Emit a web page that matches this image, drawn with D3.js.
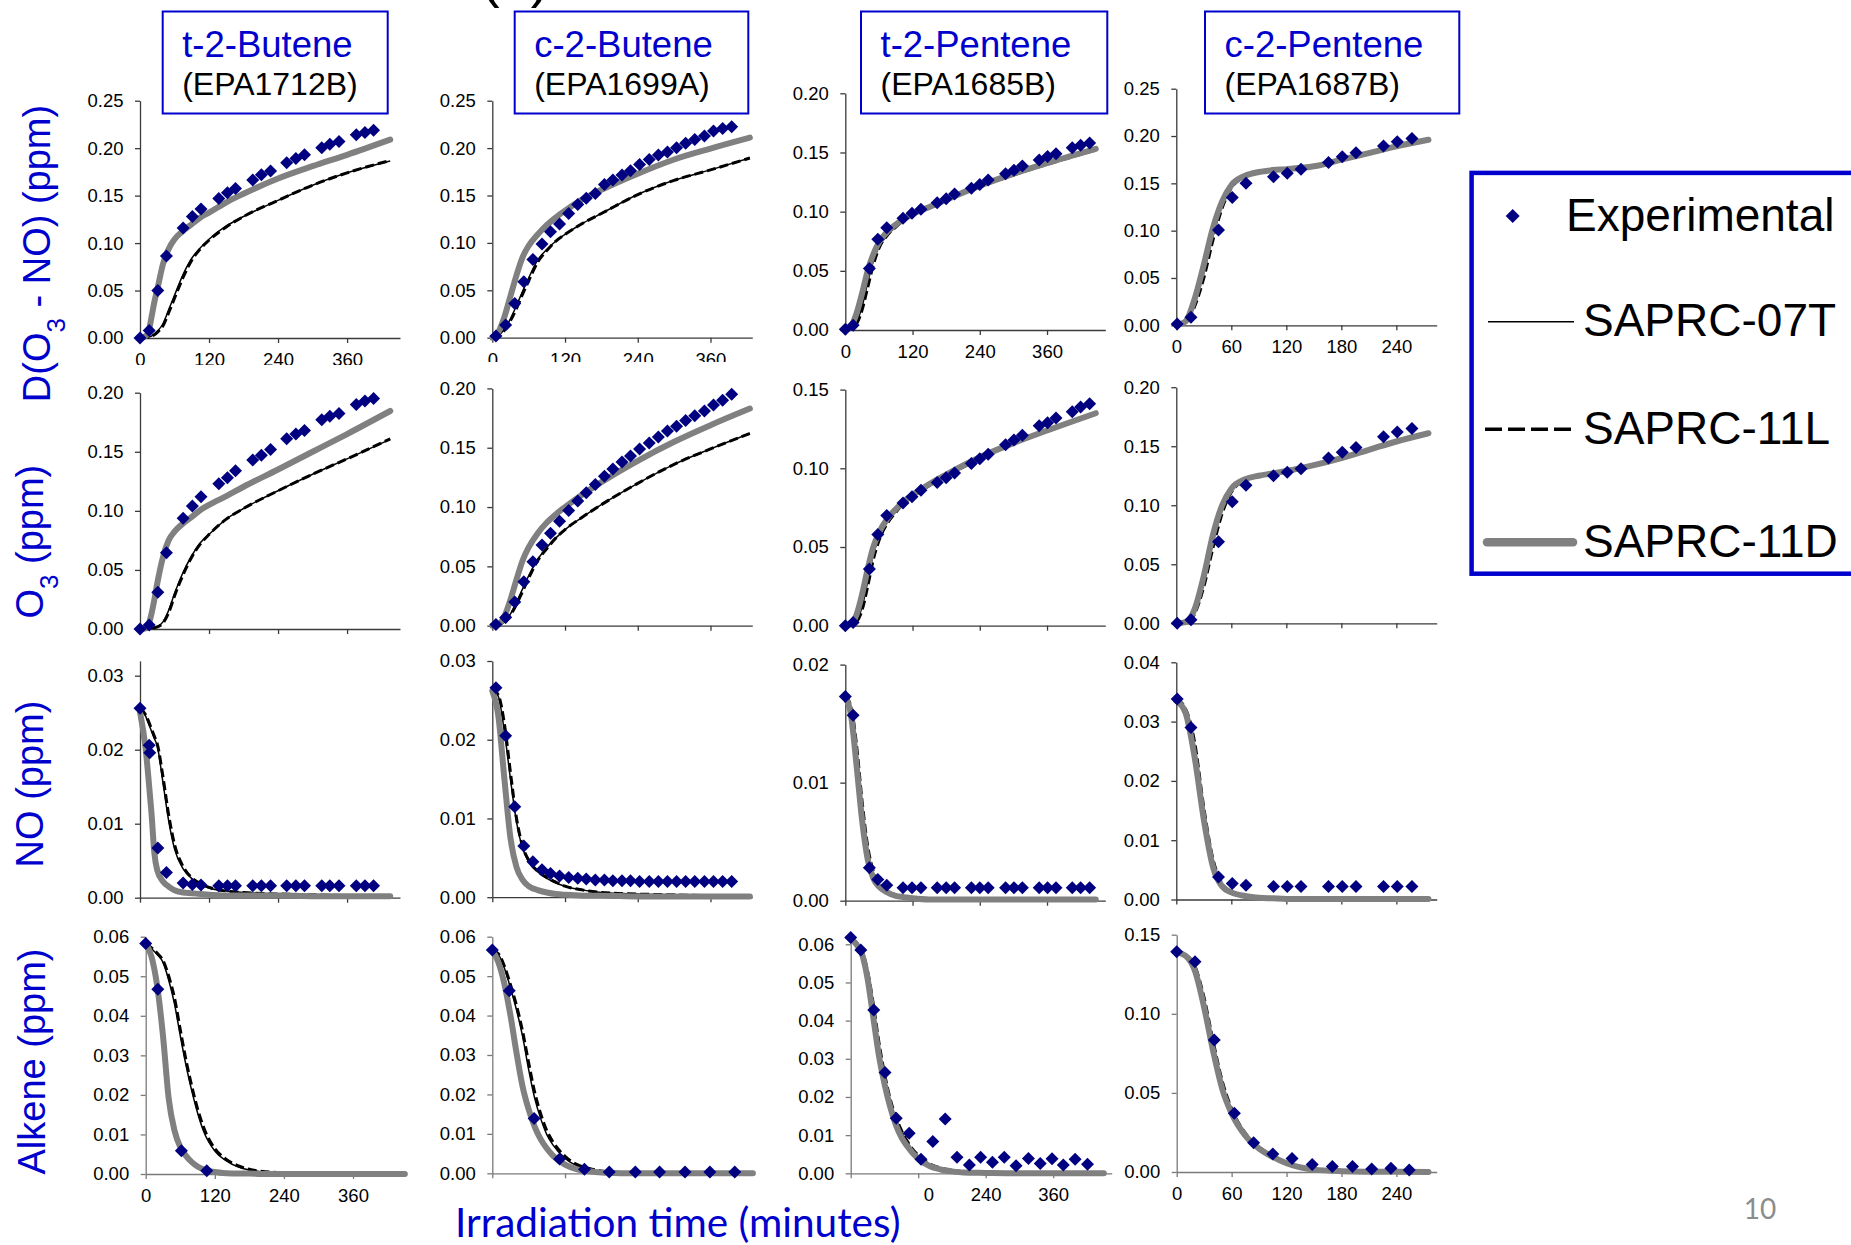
<!DOCTYPE html>
<html>
<head>
<meta charset="utf-8">
<script src="https://cdnjs.cloudflare.com/ajax/libs/d3/7.8.5/d3.min.js"></script>
<style>
  body { margin: 0; background: #fff; }
  svg { display: block; }
  text { font-family: "Liberation Sans", Arial, sans-serif; }
</style>
</head>
<body>
<svg id="chart" width="1851" height="1245"></svg>
<script>
/******************************************************************************
 * DATA                                                                       *
 * ***************************************************************************/
var compounds = ['t-2-Butene', 'c-2-Butene', 't-2-Pentene', 'c-2-Pentene'];
var runIds = ['(EPA1712B)', '(EPA1699A)', '(EPA1685B)', '(EPA1687B)'];
var seriesNames = ['Experimental', 'SAPRC-07T', 'SAPRC-11L', 'SAPRC-11D'];
var xAxisTitle = 'Irradiation time (minutes)';
var pageNumber = '10';

// tick labels
var ticksTo25 = [0, 0.05, 0.10, 0.15, 0.20, 0.25];
var ticksTo20 = [0, 0.05, 0.10, 0.15, 0.20];
var ticksTo15 = [0, 0.05, 0.10, 0.15];
var ticksTo02 = [0, 0.01, 0.02];
var ticksTo03 = [0, 0.01, 0.02, 0.03];
var ticksTo04 = [0, 0.01, 0.02, 0.03, 0.04];
var ticksTo06 = [0, 0.01, 0.02, 0.03, 0.04, 0.05, 0.06];
var xTicksLong = [0, 120, 240, 360];
var xTicksShort = [0, 60, 120, 180, 240];
var xTicksCut = [0, 120];   // c-2-Butene alkene panel: the rest sit under the axis title box

// --- t-2-Butene (EPA1712B) ---
var tbExpT = [0, 16, 31, 46, 75, 91, 106, 137, 152, 166, 196, 211, 227, 255, 271, 286, 316, 330, 346, 376, 391, 406];
var tbExpDO3NO = [0, 0.008, 0.050, 0.0865, 0.116, 0.128, 0.136, 0.147, 0.153, 0.1575, 0.1665, 0.172, 0.176, 0.1845, 0.189, 0.193, 0.2005, 0.204, 0.207, 0.214, 0.2165, 0.219];
var tbExpO3 = [0, 0.0034, 0.031, 0.0646, 0.0937, 0.104, 0.112, 0.123, 0.128, 0.134, 0.143, 0.147, 0.152, 0.161, 0.165, 0.168, 0.177, 0.180, 0.1825, 0.190, 0.193, 0.195];
var tbExpTNO = [0, 16, 17, 31, 46, 75, 91, 106, 137, 152, 166, 196, 211, 227, 255, 271, 286, 316, 330, 346, 376, 391, 406];
var tbExpNO = [0.0256, 0.0206, 0.0196, 0.0067, 0.0034, 0.0020, 0.0018, 0.0017, 0.0016, 0.0016, 0.0016, 0.0016, 0.0016, 0.0016, 0.0016, 0.0016, 0.0016, 0.0016, 0.0016, 0.0016, 0.0016, 0.0016, 0.0016];
var tbExpTAlk = [0, 21, 62, 106];
var tbExpAlk = [0.0583, 0.0467, 0.0059, 0.0008];

var tbModT = [0, 10, 15, 20, 25, 30, 40, 50, 60, 75, 90, 105, 120, 150, 180, 240, 300, 360, 435];
var tb07T_DO3NO = [0, 0.0005, 0.001, 0.002, 0.004, 0.007, 0.015, 0.030, 0.045, 0.067, 0.084, 0.095, 0.104, 0.118, 0.128, 0.145, 0.161, 0.174, 0.1865];
var tb11L_DO3NO = [0, 0.0005, 0.001, 0.002, 0.0035, 0.006, 0.013, 0.027, 0.042, 0.064, 0.082, 0.094, 0.103, 0.117, 0.128, 0.145, 0.161, 0.174, 0.187];
var tb11D_DO3NO = [0, 0.002, 0.007, 0.022, 0.038, 0.051, 0.078, 0.094, 0.104, 0.113, 0.120, 0.127, 0.132, 0.143, 0.152, 0.168, 0.181, 0.193, 0.209];
var tb07T_O3 = [0, 0, 0.0002, 0.0006, 0.001, 0.002, 0.006, 0.016, 0.030, 0.048, 0.062, 0.073, 0.080, 0.093, 0.102, 0.117, 0.131, 0.144, 0.1605];
var tb11L_O3 = [0, 0, 0.0002, 0.0006, 0.001, 0.0018, 0.005, 0.014, 0.028, 0.046, 0.061, 0.072, 0.080, 0.093, 0.102, 0.117, 0.131, 0.144, 0.161];
var tb11D_O3 = [0, 0.0005, 0.004, 0.013, 0.025, 0.0386, 0.061, 0.0753, 0.0824, 0.0894, 0.095, 0.1007, 0.105, 0.1125, 0.1204, 0.135, 0.150, 0.165, 0.1845];
var tb07T_NO = [0.0256, 0.0245, 0.0235, 0.0225, 0.0215, 0.0205, 0.0155, 0.0103, 0.0066, 0.0039, 0.0026, 0.0019, 0.0013, 0.0009, 0.0007, 0.0005, 0.0004, 0.0003, 0.0003];
var tb11L_NO = [0.0256, 0.0247, 0.0238, 0.0228, 0.0218, 0.0208, 0.0163, 0.0111, 0.0072, 0.0042, 0.0027, 0.0019, 0.0014, 0.0009, 0.0007, 0.0005, 0.0004, 0.0003, 0.0003];
var tb11D_NO = [0.0251, 0.020, 0.0159, 0.0114, 0.006, 0.0037, 0.0022, 0.0015, 0.001, 0.0007, 0.0006, 0.0005, 0.0004, 0.0003, 0.0003, 0.0003, 0.0002, 0.0002, 0.0002];
var tbModTAlk = [0, 10, 20, 30, 40, 50, 60, 70, 80, 90, 100, 120, 140, 160, 180, 200, 240, 300, 450];
var tb07T_Alk = [0.0583, 0.057, 0.0555, 0.0535, 0.049, 0.043, 0.035, 0.0275, 0.021, 0.0155, 0.011, 0.0058, 0.0033, 0.0018, 0.001, 0.0006, 0.0002, 0.0001, 0];
var tb11L_Alk = [0.0583, 0.0572, 0.0558, 0.054, 0.050, 0.0445, 0.0365, 0.0288, 0.0222, 0.0165, 0.012, 0.0064, 0.0037, 0.0021, 0.0012, 0.0007, 0.0003, 0.0001, 0];
var tb11D_Alk = [0.0583, 0.055, 0.0475, 0.035, 0.019, 0.011, 0.0068, 0.0046, 0.0030, 0.0019, 0.0012, 0.0005, 0.0002, 0.0001, 0.0001, 0, 0, 0, 0];

// --- c-2-Butene (EPA1699A) ---
var cbExpT = [6, 22, 37, 52, 67, 82, 96, 111, 126, 141, 155, 170, 185, 199, 214, 228, 243, 259, 274, 289, 304, 319, 334, 350, 365, 380, 395];
var cbExpDO3NO = [0.0018, 0.0134, 0.036, 0.059, 0.0826, 0.0988, 0.1118, 0.120, 0.131, 0.1406, 0.147, 0.152, 0.1617, 0.1663, 0.1716, 0.176, 0.1828, 0.188, 0.1927, 0.196, 0.2004, 0.205, 0.209, 0.2127, 0.218, 0.2208, 0.2226];
var cbExpO3 = [0.001, 0.007, 0.020, 0.037, 0.054, 0.068, 0.078, 0.088, 0.097, 0.105, 0.112, 0.119, 0.126, 0.132, 0.138, 0.143, 0.149, 0.154, 0.159, 0.164, 0.168, 0.173, 0.177, 0.181, 0.186, 0.190, 0.195];
var cbExpNO = [0.0266, 0.0205, 0.0115, 0.0065, 0.0045, 0.0035, 0.003, 0.0027, 0.0025, 0.0024, 0.0023, 0.0022, 0.0022, 0.0021, 0.0021, 0.0021, 0.0020, 0.0020, 0.0020, 0.0020, 0.0020, 0.0020, 0.0020, 0.0020, 0.0020, 0.0020, 0.0020];
var cbExpTAlk = [0, 28, 69, 111, 152, 193, 236, 276, 318, 359, 400];
var cbExpAlk = [0.0566, 0.0463, 0.0139, 0.0036, 0.001, 0.0003, 0.0003, 0.0003, 0.0003, 0.0003, 0.0003];

var cbModT = [0, 10, 20, 30, 40, 50, 60, 75, 90, 105, 120, 150, 180, 240, 300, 360, 425];
var cb07T_DO3NO = [0, 0.002, 0.009, 0.020, 0.034, 0.049, 0.063, 0.082, 0.093, 0.102, 0.109, 0.121, 0.131, 0.151, 0.166, 0.177, 0.1895];
var cb11L_DO3NO = [0, 0.002, 0.008, 0.018, 0.031, 0.046, 0.060, 0.080, 0.092, 0.102, 0.109, 0.121, 0.131, 0.151, 0.166, 0.177, 0.1895];
var cb11D_DO3NO = [0, 0.006, 0.022, 0.044, 0.066, 0.085, 0.097, 0.109, 0.119, 0.127, 0.134, 0.1465, 0.156, 0.173, 0.188, 0.1995, 0.211];
var cb07T_O3 = [0, 0.0005, 0.003, 0.010, 0.020, 0.031, 0.042, 0.056, 0.066, 0.074, 0.081, 0.092, 0.102, 0.120, 0.136, 0.149, 0.162];
var cb11L_O3 = [0, 0.0005, 0.0025, 0.009, 0.018, 0.029, 0.040, 0.055, 0.065, 0.074, 0.081, 0.092, 0.102, 0.120, 0.136, 0.149, 0.162];
var cb11D_O3 = [0, 0.001, 0.008, 0.022, 0.039, 0.055, 0.066, 0.078, 0.087, 0.094, 0.100, 0.111, 0.121, 0.139, 0.155, 0.169, 0.183];
var cb07T_NO = [0.0265, 0.0255, 0.021, 0.015, 0.0095, 0.0062, 0.0045, 0.0032, 0.0024, 0.0018, 0.0014, 0.0009, 0.0006, 0.0004, 0.0003, 0.0002, 0.0002];
var cb11L_NO = [0.0265, 0.0257, 0.022, 0.0158, 0.010, 0.0065, 0.0047, 0.0033, 0.0025, 0.0019, 0.0014, 0.0009, 0.0006, 0.0004, 0.0003, 0.0002, 0.0002];
var cb11D_NO = [0.0262, 0.023, 0.0150, 0.0075, 0.0038, 0.0022, 0.0014, 0.0009, 0.0006, 0.0004, 0.0003, 0.0002, 0.0002, 0.0001, 0.0001, 0.0001, 0.0001];
var cbModTAlk = [0, 10, 20, 30, 40, 50, 60, 70, 80, 90, 100, 120, 140, 160, 180, 200, 240, 300, 430];
var cb07T_Alk = [0.0566, 0.0555, 0.052, 0.047, 0.0414, 0.0347, 0.0263, 0.019, 0.0138, 0.0098, 0.0072, 0.0038, 0.0019, 0.001, 0.0005, 0.0003, 0.0001, 0, 0];
var cb11L_Alk = [0.0566, 0.0557, 0.0525, 0.0478, 0.0425, 0.036, 0.028, 0.0205, 0.015, 0.0108, 0.008, 0.0043, 0.0022, 0.0012, 0.0006, 0.0003, 0.0001, 0, 0];
var cb11D_Alk = [0.0566, 0.0535, 0.048, 0.040, 0.0305, 0.022, 0.0162, 0.0118, 0.0086, 0.0063, 0.0045, 0.0022, 0.001, 0.0005, 0.0002, 0.0001, 0, 0, 0];

// --- t-2-Pentene (EPA1685B) ---
var tpExpT = [0, 14, 43, 58, 74, 103, 119, 135, 164, 180, 195, 225, 240, 255, 286, 301, 316, 346, 361, 376, 405, 420, 436];
var tpExpDO3NO = [0.0006, 0.004, 0.052, 0.0766, 0.0865, 0.0944, 0.0986, 0.102, 0.1076, 0.111, 0.115, 0.1197, 0.123, 0.1268, 0.132, 0.135, 0.1386, 0.1437, 0.1465, 0.149, 0.154, 0.156, 0.158];
var tpExpO3 = [0, 0.002, 0.036, 0.058, 0.070, 0.078, 0.082, 0.086, 0.091, 0.094, 0.097, 0.103, 0.106, 0.109, 0.115, 0.118, 0.121, 0.127, 0.129, 0.132, 0.136, 0.139, 0.141];
var tpExpNO = [0.0173, 0.0157, 0.0028, 0.0018, 0.0013, 0.0011, 0.0011, 0.0011, 0.0011, 0.0011, 0.0011, 0.0011, 0.0011, 0.0011, 0.0011, 0.0011, 0.0011, 0.0011, 0.0011, 0.0011, 0.0011, 0.0011, 0.0011];
var tpExpTAlk = [0, 18, 41, 61, 81, 104, 125, 146, 168, 189, 211, 231, 252, 273, 294, 316, 337, 358, 378, 399, 421];
var tpExpAlk = [0.0618, 0.0585, 0.0428, 0.0264, 0.0144, 0.0105, 0.0037, 0.0083, 0.0142, 0.0042, 0.0022, 0.0042, 0.0029, 0.0042, 0.002, 0.0039, 0.0026, 0.0038, 0.0022, 0.0037, 0.0024];

var tpModT = [0, 10, 20, 30, 40, 50, 60, 75, 90, 105, 120, 150, 180, 240, 300, 360, 447];
var tp07T_DO3NO = [0, 0.001, 0.006, 0.020, 0.040, 0.058, 0.070, 0.080, 0.087, 0.093, 0.097, 0.104, 0.110, 0.121, 0.131, 0.140, 0.152];
var tp11L_DO3NO = [0, 0.001, 0.005, 0.017, 0.036, 0.055, 0.069, 0.080, 0.087, 0.093, 0.097, 0.104, 0.110, 0.121, 0.131, 0.140, 0.152];
var tp11D_DO3NO = [0, 0.003, 0.014, 0.031, 0.050, 0.064, 0.074, 0.083, 0.089, 0.094, 0.098, 0.104, 0.110, 0.122, 0.132, 0.141, 0.153];
var tp07T_O3 = [0, 0.0005, 0.003, 0.012, 0.028, 0.045, 0.056, 0.066, 0.073, 0.078, 0.082, 0.089, 0.095, 0.106, 0.116, 0.124, 0.135];
var tp11L_O3 = [0, 0.0005, 0.0025, 0.010, 0.025, 0.042, 0.054, 0.065, 0.072, 0.078, 0.082, 0.089, 0.095, 0.106, 0.116, 0.124, 0.135];
var tp11D_O3 = [0, 0.001, 0.007, 0.020, 0.036, 0.050, 0.059, 0.068, 0.074, 0.079, 0.083, 0.090, 0.096, 0.107, 0.116, 0.124, 0.135];
var tp07T_NO = [0.0173, 0.0163, 0.0128, 0.0080, 0.0043, 0.0023, 0.0014, 0.0008, 0.0005, 0.0003, 0.0002, 0.0001, 0.0001, 0.0001, 0.0001, 0.0001, 0.0001];
var tp11L_NO = [0.0173, 0.0165, 0.0132, 0.0084, 0.0046, 0.0025, 0.0015, 0.0008, 0.0005, 0.0003, 0.0002, 0.0001, 0.0001, 0.0001, 0.0001, 0.0001, 0.0001];
var tp11D_NO = [0.0172, 0.0158, 0.0115, 0.0068, 0.0035, 0.0019, 0.0012, 0.0007, 0.0004, 0.0003, 0.0002, 0.0001, 0.0001, 0.0001, 0.0001, 0.0001, 0.0001];
var tpModTAlk = [0, 10, 20, 30, 40, 50, 60, 70, 80, 90, 100, 120, 140, 160, 180, 200, 240, 300, 450];
var tp07T_Alk = [0.0616, 0.0603, 0.058, 0.0525, 0.0437, 0.0335, 0.0255, 0.019, 0.0145, 0.011, 0.0082, 0.0045, 0.0024, 0.0013, 0.0007, 0.0004, 0.0001, 0, 0];
var tp11L_Alk = [0.0616, 0.0605, 0.0583, 0.053, 0.0445, 0.0345, 0.0262, 0.0196, 0.0149, 0.0113, 0.0085, 0.0047, 0.0025, 0.0014, 0.0008, 0.0004, 0.0001, 0, 0];
var tp11D_Alk = [0.0616, 0.0600, 0.0575, 0.051, 0.041, 0.031, 0.0235, 0.0175, 0.0128, 0.0095, 0.0072, 0.0038, 0.0019, 0.001, 0.0005, 0.0002, 0.0001, 0, 0];

// --- c-2-Pentene (EPA1687B) ---
var cpExpT = [1, 16, 46, 61, 76, 106, 121, 136, 166, 181, 196, 226, 241, 257];
var cpExpDO3NO = [0.0014, 0.0085, 0.1007, 0.135, 0.150, 0.157, 0.1606, 0.165, 0.172, 0.178, 0.1824, 0.1894, 0.194, 0.1975];
var cpExpO3 = [0, 0.003, 0.069, 0.103, 0.117, 0.125, 0.128, 0.131, 0.140, 0.145, 0.149, 0.158, 0.162, 0.165];
var cpExpNO = [0.0338, 0.029, 0.0038, 0.0027, 0.0024, 0.0022, 0.0022, 0.0022, 0.0022, 0.0022, 0.0022, 0.0022, 0.0022, 0.0022];
var cpExpTAlk = [0, 20, 41, 63, 84, 105, 126, 148, 170, 192, 213, 234, 254];
var cpExpAlk = [0.1392, 0.1329, 0.0834, 0.0371, 0.0185, 0.0114, 0.0086, 0.0048, 0.0034, 0.0034, 0.0019, 0.0023, 0.0013];

var cpModT = [0, 10, 20, 30, 40, 50, 60, 75, 90, 105, 120, 150, 180, 210, 240, 275];
var cp07T_DO3NO = [0, 0.003, 0.022, 0.055, 0.094, 0.126, 0.146, 0.157, 0.161, 0.163, 0.165, 0.168, 0.175, 0.182, 0.189, 0.196];
var cp11L_DO3NO = [0, 0.003, 0.020, 0.050, 0.090, 0.124, 0.145, 0.157, 0.161, 0.163, 0.165, 0.168, 0.175, 0.182, 0.189, 0.196];
var cp11D_DO3NO = [0, 0.004, 0.028, 0.064, 0.103, 0.131, 0.148, 0.158, 0.162, 0.164, 0.165, 0.168, 0.175, 0.182, 0.189, 0.196];
var cp07T_O3 = [0, 0.0005, 0.009, 0.034, 0.068, 0.096, 0.112, 0.121, 0.125, 0.127, 0.129, 0.134, 0.140, 0.147, 0.154, 0.161];
var cp11L_O3 = [0, 0.0005, 0.008, 0.031, 0.064, 0.093, 0.111, 0.121, 0.125, 0.127, 0.129, 0.134, 0.140, 0.147, 0.154, 0.161];
var cp11D_O3 = [0, 0.001, 0.012, 0.040, 0.075, 0.100, 0.114, 0.122, 0.125, 0.127, 0.129, 0.134, 0.140, 0.147, 0.154, 0.161];
var cp07T_NO = [0.0338, 0.032, 0.026, 0.015, 0.0065, 0.0026, 0.0013, 0.0007, 0.0004, 0.0002, 0.0001, 0.0001, 0.0001, 0.0001, 0.0001, 0.0001];
var cp11L_NO = [0.0338, 0.0322, 0.0265, 0.0155, 0.0068, 0.0027, 0.0013, 0.0007, 0.0004, 0.0002, 0.0001, 0.0001, 0.0001, 0.0001, 0.0001, 0.0001];
var cp11D_NO = [0.0335, 0.0315, 0.024, 0.0135, 0.0055, 0.0022, 0.0012, 0.0006, 0.0003, 0.0002, 0.0001, 0.0001, 0.0001, 0.0001, 0.0001, 0.0001];
var cp07T_Alk = [0.139, 0.137, 0.129, 0.108, 0.080, 0.055, 0.039, 0.024, 0.0155, 0.010, 0.006, 0.0018, 0.0006, 0.0002, 0.0001, 0];
var cp11L_Alk = [0.139, 0.1372, 0.130, 0.110, 0.082, 0.057, 0.040, 0.0245, 0.0158, 0.0102, 0.0061, 0.0018, 0.0006, 0.0002, 0.0001, 0];
var cp11D_Alk = [0.139, 0.1365, 0.127, 0.104, 0.076, 0.052, 0.037, 0.023, 0.0148, 0.0095, 0.0055, 0.0015, 0.0005, 0.0002, 0.0001, 0];

/******************************************************************************
 * LAYOUT (pixel placement)                                *
 * ***************************************************************************/
var BLUE = '#0000cc';
var NAVY = '#000080';
var GREY = '#808080';

// x: left axis position per row/col, plot width, x max (minutes)
var axisX = [[140, 492.3, 845.3, 1176.3], [140, 492.3, 845.3, 1176.3], [140, 492.3, 845.3, 1176.3], [145.7, 492.3, 850.7, 1176.7]];
var plotW = [[260, 260, 260, 260.4], [260, 260, 260, 260.4], [260, 260, 260, 260.4], [260.3, 260, 261, 260]];
var xMax = [452, 429, 464, 284];
// y: pixel of zero and pixel of the top tick
var yZeroPx = [[338, 337.7, 330, 325.3], [629, 625.7, 625.7, 623.3], [897.7, 897.2, 900.7, 899.5], [1174, 1173.3, 1173.3, 1172]];
var yTickPx = [[100.7, 100.7, 93.3, 88.7], [392.7, 388.4, 389.6, 387.2], [675.7, 661, 664.6, 662.3], [936.7, 936.7, 944.3, 934.7]];

/******************************************************************************
 * PANEL TABLE                                                                *
 * ***************************************************************************/
function mk(expT, exp, modT, m07, m11L, m11D, yTicks, yMax) {
    return {expT: expT, exp: exp, modT: modT, m07: m07, m11L: m11L, m11D: m11D,
            yTicks: yTicks, yMax: yMax || yTicks[yTicks.length - 1]};
}

var grid = [
    [mk(tbExpT, tbExpDO3NO, tbModT, tb07T_DO3NO, tb11L_DO3NO, tb11D_DO3NO, ticksTo25),
     mk(cbExpT, cbExpDO3NO, cbModT, cb07T_DO3NO, cb11L_DO3NO, cb11D_DO3NO, ticksTo25),
     mk(tpExpT, tpExpDO3NO, tpModT, tp07T_DO3NO, tp11L_DO3NO, tp11D_DO3NO, ticksTo20),
     mk(cpExpT, cpExpDO3NO, cpModT, cp07T_DO3NO, cp11L_DO3NO, cp11D_DO3NO, ticksTo25)],
    [mk(tbExpT, tbExpO3, tbModT, tb07T_O3, tb11L_O3, tb11D_O3, ticksTo20),
     mk(cbExpT, cbExpO3, cbModT, cb07T_O3, cb11L_O3, cb11D_O3, ticksTo20),
     mk(tpExpT, tpExpO3, tpModT, tp07T_O3, tp11L_O3, tp11D_O3, ticksTo15),
     mk(cpExpT, cpExpO3, cpModT, cp07T_O3, cp11L_O3, cp11D_O3, ticksTo20)],
    [mk(tbExpTNO, tbExpNO, tbModT, tb07T_NO, tb11L_NO, tb11D_NO, ticksTo03, 0.032),
     mk(cbExpT, cbExpNO, cbModT, cb07T_NO, cb11L_NO, cb11D_NO, ticksTo03),
     mk(tpExpT, tpExpNO, tpModT, tp07T_NO, tp11L_NO, tp11D_NO, ticksTo02),
     mk(cpExpT, cpExpNO, cpModT, cp07T_NO, cp11L_NO, cp11D_NO, ticksTo04)],
    [mk(tbExpTAlk, tbExpAlk, tbModTAlk, tb07T_Alk, tb11L_Alk, tb11D_Alk, ticksTo06),
     mk(cbExpTAlk, cbExpAlk, cbModTAlk, cb07T_Alk, cb11L_Alk, cb11D_Alk, ticksTo06),
     mk(tpExpTAlk, tpExpAlk, tpModTAlk, tp07T_Alk, tp11L_Alk, tp11D_Alk, ticksTo06, 0.0615),
     mk(cpExpTAlk, cpExpAlk, cpModT, cp07T_Alk, cp11L_Alk, cp11D_Alk, ticksTo15)]
];

/******************************************************************************
 * DRAW                                                                       *
 * ***************************************************************************/
var svg = d3.select('#chart');
svg.append('rect').attr('width', 1851).attr('height', 1245).attr('fill', '#fff');

// bottom of a slide title that runs off the top edge
svg.append('text').attr('x', 481).attr('y', -4)
    .style('font-size', '56px').attr('fill', '#000').text('(a)');

var diamond = function (r) {
    return 'M0,' + (-r) + 'L' + r + ',0L0,' + r + 'L' + (-r) + ',0Z';
};

function zip(a, b) {
    return a.map(function (d, i) { return [d, b[i]]; });
}

function drawPanel(row, col) {
    var p = grid[row][col];
    var g = svg.append('g').attr('class', 'panel r' + row + ' c' + col);

    var x0 = axisX[row][col];
    var x = d3.scaleLinear().domain([0, xMax[col]]).range([x0, x0 + plotW[row][col]]);
    var topTick = p.yTicks[p.yTicks.length - 1];
    var pxPer = (yZeroPx[row][col] - yTickPx[row][col]) / topTick;
    var y = d3.scaleLinear().domain([0, p.yMax])
        .range([yZeroPx[row][col], yZeroPx[row][col] - p.yMax * pxPer]);

    // chart area of row 2 (cols 1-2) hides the lower half of the row 1 labels
    if (row === 1 && col < 2) {
        g.append('rect').attr('x', col === 0 ? 60 : 420).attr('y', col === 0 ? 365 : 362)
            .attr('width', 345).attr('height', 270).attr('fill', '#fff');
    }

    var axisColor = row === 3 ? '#7a7a7a' : '#3a3a3a';
    // the axis title box sits over the c-2-Butene alkene labels
    var withLabels = row === 0 || (row === 3 && col !== 1);
    var xTicks = col === 3 ? xTicksShort : (row === 3 && col === 1 ? xTicksCut : xTicksLong);

    var yAxis = d3.axisLeft(y).tickValues(p.yTicks).tickFormat(d3.format('.2f'))
        .tickSizeInner(5).tickSizeOuter(0).tickPadding(11.5);
    var xAxis = d3.axisBottom(x).tickValues(xTicks)
        .tickFormat(withLabels ? d3.format('d') : function () { return ''; })
        .tickSizeInner(5).tickSizeOuter(0).tickPadding(10);

    var ya = g.append('g').attr('transform', 'translate(' + x0 + ',0)').call(yAxis);
    var xa = g.append('g').attr('transform', 'translate(0,' + yZeroPx[row][col] + ')').call(xAxis);
    [ya, xa].forEach(function (a) {
        a.select('.domain').attr('stroke', axisColor).attr('stroke-width', 1.3);
        a.selectAll('.tick line').attr('stroke', axisColor).attr('stroke-width', 1.3);
        a.selectAll('.tick text').attr('fill', '#000')
            .style('font-size', '18.5px').style('font-family', '"Liberation Sans", Arial, sans-serif');
    });
    if (!withLabels) { xa.selectAll('.tick text').remove(); }

    var line = d3.line()
        .x(function (d) { return x(d[0]); })
        .y(function (d) { return y(d[1]); })
        .curve(d3.curveMonotoneX);

    g.append('path').datum(zip(p.modT, p.m07)).attr('d', line)
        .attr('fill', 'none').attr('stroke', '#000').attr('stroke-width', 1.5);
    g.append('path').datum(zip(p.modT, p.m11L)).attr('d', line)
        .attr('fill', 'none').attr('stroke', '#000').attr('stroke-width', 3)
        .attr('stroke-dasharray', '9,4');
    g.append('path').datum(zip(p.modT, p.m11D)).attr('d', line)
        .attr('fill', 'none').attr('stroke', GREY).attr('stroke-width', 6)
        .attr('stroke-linecap', 'round').attr('stroke-linejoin', 'round');

    g.selectAll('path.exp').data(zip(p.expT, p.exp)).enter().append('path')
        .attr('class', 'exp')
        .attr('transform', function (d) { return 'translate(' + x(d[0]) + ',' + y(d[1]) + ')'; })
        .attr('d', diamond(6.5)).attr('fill', NAVY);
}

for (var r = 0; r < 4; r++) {
    for (var c = 0; c < 4; c++) {
        drawPanel(r, c);
    }
}

// compound title boxes
var boxX = [162.7, 514.7, 861, 1205];
var boxW = [225, 233.6, 246.3, 254.3];
compounds.forEach(function (name, i) {
    svg.append('rect').attr('x', boxX[i]).attr('y', 11.5).attr('width', boxW[i]).attr('height', 102)
        .attr('fill', '#fff').attr('stroke', BLUE).attr('stroke-width', 2);
    svg.append('text').attr('x', boxX[i] + 19.5).attr('y', 57)
        .style('font-size', '36.5px').attr('fill', BLUE).text(name);
    svg.append('text').attr('x', boxX[i] + 19.5).attr('y', 95)
        .style('font-size', '32px').attr('fill', '#000').text(runIds[i]);
});

// row titles (rotated)
var rowTitleY = [253.5, 541.7, 784, 1061.5];
var rowTitleX = [50, 43.3, 42.7, 45];
var rowTitles = [
    [['D(O', 0], ['3', 1], [' - NO) (ppm)', 0]],
    [['O', 0], ['3', 1], [' (ppm)', 0]],
    [['NO (ppm)', 0]],
    [['Alkene (ppm)', 0]]
];
rowTitles.forEach(function (parts, i) {
    var t = svg.append('text')
        .attr('transform', 'translate(' + rowTitleX[i] + ',' + rowTitleY[i] + ') rotate(-90)')
        .attr('text-anchor', 'middle').style('font-size', '38px').attr('fill', BLUE);
    parts.forEach(function (pt) {
        var s = t.append('tspan').text(pt[0]);
        if (pt[1]) { s.attr('baseline-shift', 'sub').style('font-size', '26px'); }
    });
});

// x-axis title on its own white text box (it hides the "12" of the t-2-Pentene 120 label)
svg.append('rect').attr('x', 449).attr('y', 1181).attr('width', 474.5).attr('height', 64).attr('fill', '#fff');
svg.append('text').attr('x', 455).attr('y', 1236.5)
    .style('font-family', 'Lato, "Open Sans", sans-serif').style('font-size', '40.5px')
    .attr('fill', BLUE).text(xAxisTitle);

// page number
svg.append('text').attr('x', 1760).attr('y', 1219).attr('text-anchor', 'middle')
    .style('font-family', 'Lato, "Open Sans", sans-serif').style('font-size', '28px')
    .attr('fill', '#8c8c8c').text(pageNumber);

/******************************************************************************
 * LEGEND                                                                     *
 * ***************************************************************************/
var lg = svg.append('g').attr('class', 'legend');
lg.append('rect').attr('x', 1471.6).attr('y', 172.9).attr('width', 420).attr('height', 400.8)
    .attr('fill', '#fff').attr('stroke', BLUE).attr('stroke-width', 4.5);
var legendY = [231, 335.7, 444, 556.7];
var legendLineY = [216, 321.7, 429.3, 542.3];
lg.append('path').attr('transform', 'translate(1512.7,' + legendLineY[0] + ')')
    .attr('d', diamond(7)).attr('fill', NAVY);
lg.append('line').attr('x1', 1488).attr('x2', 1574).attr('y1', legendLineY[1]).attr('y2', legendLineY[1])
    .attr('stroke', '#000').attr('stroke-width', 1.5);
lg.append('line').attr('x1', 1485).attr('x2', 1575).attr('y1', legendLineY[2]).attr('y2', legendLineY[2])
    .attr('stroke', '#000').attr('stroke-width', 3.6).attr('stroke-dasharray', '17,6');
lg.append('line').attr('x1', 1487).attr('x2', 1573).attr('y1', legendLineY[3]).attr('y2', legendLineY[3])
    .attr('stroke', GREY).attr('stroke-width', 8.5).attr('stroke-linecap', 'round');
seriesNames.forEach(function (s, i) {
    lg.append('text').attr('x', i === 0 ? 1566 : 1583).attr('y', legendY[i])
        .style('font-size', '46px').attr('fill', '#000').text(s);
});
</script>
</body>
</html>
